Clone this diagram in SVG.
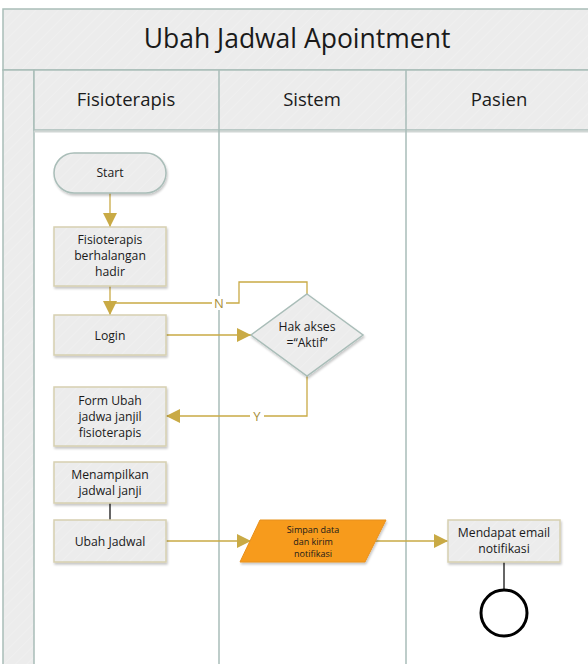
<svg xmlns="http://www.w3.org/2000/svg" width="588" height="664" viewBox="0 0 588 664">
  <defs>
    <pattern id="hatch" patternUnits="userSpaceOnUse" width="8" height="8" patternTransform="rotate(45)">
      <rect width="8" height="8" fill="#ececec"/>
      <line x1="0" y1="0" x2="0" y2="8" stroke="#f1f1f1" stroke-width="1.5"/>
    </pattern>
    <filter id="shadow" x="-10%" y="-10%" width="130%" height="140%">
      <feDropShadow dx="1" dy="2" stdDeviation="1.2" flood-color="#000" flood-opacity="0.22"/>
    </filter>
    <marker id="arrow" viewBox="0 0 10 10" refX="10" refY="5" markerWidth="14" markerHeight="14" markerUnits="userSpaceOnUse" orient="auto">
      <path d="M0,0 L10,5 L0,10 z" fill="#c9aa45"/>
    </marker>
  </defs>
  <style>
    .band { fill: url(#hatch); stroke: #a9bdb8; stroke-width: 1.5; }
    .lane { fill: none; stroke: #a9bdb8; stroke-width: 1.5; }
    .box { fill: url(#hatch); stroke: #d6d0b0; stroke-width: 1.5; filter: url(#shadow); }
    .flow { fill: none; stroke: #c9aa45; stroke-width: 1.3; }
    .dark { fill: none; stroke: #333; stroke-width: 1.5; }
    text { font-family: "Open Sans", "Noto Sans", sans-serif; fill: #1a1a1a; text-anchor: middle; }
    .title { font-size: 26.5px; }
    .head { font-size: 18.5px; }
    .lbl { font-size: 12.2px; }
    .small { font-size: 9px; }
    .tag { font-size: 13px; fill: #a88f3a; }
  </style>

  <!-- pool frame -->
  <g id="pool">
    <rect x="3" y="9" width="600" height="61" class="band"/>
    <text x="297" y="48" class="title">Ubah Jadwal Apointment</text>
    <rect x="3" y="70" width="31" height="600" class="band"/>
    <rect x="34" y="70" width="570" height="60" class="band"/>
    <line x1="34" y1="131.5" x2="600" y2="131.5" stroke="#d0d6d4" stroke-width="2"/>
    <line x1="219" y1="70" x2="219" y2="670" class="lane"/>
    <line x1="406" y1="70" x2="406" y2="670" class="lane"/>
    <text x="126" y="106" class="head">Fisioterapis</text>
    <text x="312" y="106" class="head">Sistem</text>
    <text x="499" y="106" class="head">Pasien</text>
  </g>

  <!-- connectors -->
  <g id="connectors">
    <line x1="110" y1="193" x2="110" y2="227" class="flow" marker-end="url(#arrow)"/>
    <line x1="110" y1="286" x2="110" y2="315" class="flow" marker-end="url(#arrow)"/>
    <line x1="166" y1="335" x2="251" y2="335" class="flow" marker-end="url(#arrow)"/>
    <polyline points="307,294 307,282 239,282 239,303 110,303" class="flow"/>
    <rect x="212" y="296" width="14" height="14" fill="#fff"/>
    <text x="219" y="308" class="tag">N</text>
    <polyline points="307,376 307,416 166,416" class="flow" marker-end="url(#arrow)"/>
    <rect x="250" y="409" width="14" height="14" fill="#fff"/>
    <text x="257" y="421" class="tag">Y</text>
    <line x1="110" y1="503" x2="110" y2="520" class="dark"/>
    <line x1="166" y1="541" x2="251" y2="541" class="flow" marker-end="url(#arrow)"/>
    <line x1="375" y1="541" x2="448" y2="541" class="flow" marker-end="url(#arrow)"/>
    <line x1="504" y1="562" x2="504" y2="590" class="dark"/>
  </g>

  <g id="start">
    <rect x="54" y="153" width="112" height="40" rx="20" ry="20" fill="url(#hatch)" stroke="#a9bdb8" stroke-width="1.5" filter="url(#shadow)"/>
    <text x="110" y="177" class="lbl">Start</text>
  </g>

  <g id="berhalangan">
    <rect x="54" y="227" width="112" height="59" class="box"/>
    <text x="110" y="244" class="lbl">Fisioterapis</text>
    <text x="110" y="260" class="lbl">berhalangan</text>
    <text x="110" y="276" class="lbl">hadir</text>
  </g>

  <g id="login">
    <rect x="54" y="315" width="112" height="40" class="box"/>
    <text x="110" y="340" class="lbl">Login</text>
  </g>

  <g id="hak-akses">
    <polygon points="307,294 363,335 307,376 251,335" fill="url(#hatch)" stroke="#a9bdb8" stroke-width="1.5" filter="url(#shadow)"/>
    <text x="307" y="331" class="lbl">Hak akses</text>
    <text x="307" y="347" class="lbl">=“Aktif”</text>
  </g>

  <g id="form-ubah">
    <rect x="54" y="387" width="112" height="59" class="box"/>
    <text x="110" y="405" class="lbl">Form Ubah</text>
    <text x="110" y="421" class="lbl">jadwa janjil</text>
    <text x="110" y="437" class="lbl">fisioterapis</text>
  </g>

  <g id="menampilkan">
    <rect x="54" y="462" width="112" height="41" class="box"/>
    <text x="110" y="479" class="lbl">Menampilkan</text>
    <text x="110" y="495" class="lbl">jadwal janji</text>
  </g>

  <g id="ubah-jadwal">
    <rect x="54" y="520" width="112" height="42" class="box"/>
    <text x="110" y="546" class="lbl">Ubah Jadwal</text>
  </g>

  <g id="simpan">
    <polygon points="260,520 386,520 365,562 240,562" fill="#f79b1f" stroke="#e8901a" stroke-width="1" filter="url(#shadow)"/>
    <text x="313" y="533" class="small">Simpan data</text>
    <text x="313" y="545" class="small">dan kirim</text>
    <text x="313" y="557" class="small">notifikasi</text>
  </g>

  <g id="email">
    <rect x="448" y="520" width="112" height="42" class="box"/>
    <text x="504" y="537" class="lbl">Mendapat email</text>
    <text x="504" y="553" class="lbl">notifikasi</text>
  </g>

  <g id="end">
    <circle cx="504" cy="613" r="23" fill="#fff" stroke="#000" stroke-width="3"/>
  </g>
</svg>
